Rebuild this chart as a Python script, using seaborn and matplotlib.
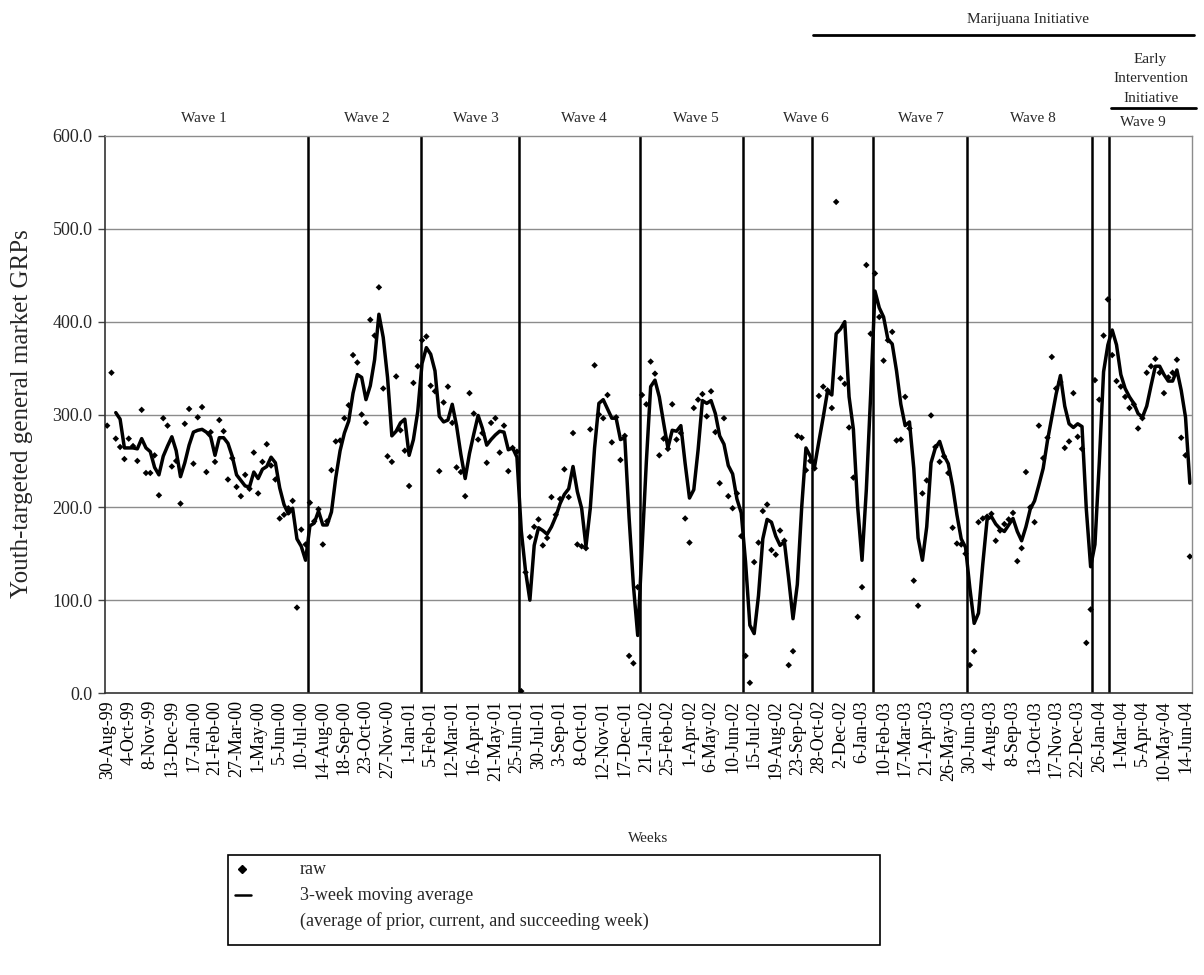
import numpy as np
import pandas as pd
import matplotlib
matplotlib.use("Agg")
import matplotlib.pyplot as plt
import seaborn as sns
from matplotlib.lines import Line2D
from matplotlib.patches import Rectangle
from matplotlib.ticker import FuncFormatter

# ---------------- data ----------------
tick_labels = ["30-Aug-99", "4-Oct-99", "8-Nov-99", "13-Dec-99", "17-Jan-00", "21-Feb-00",
               "27-Mar-00", "1-May-00", "5-Jun-00", "10-Jul-00", "14-Aug-00", "18-Sep-00",
               "23-Oct-00", "27-Nov-00", "1-Jan-01", "5-Feb-01", "12-Mar-01", "16-Apr-01",
               "21-May-01", "25-Jun-01", "30-Jul-01", "3-Sep-01", "8-Oct-01", "12-Nov-01",
               "17-Dec-01", "21-Jan-02", "25-Feb-02", "1-Apr-02", "6-May-02", "10-Jun-02",
               "15-Jul-02", "19-Aug-02", "23-Sep-02", "28-Oct-02", "2-Dec-02", "6-Jan-03",
               "10-Feb-03", "17-Mar-03", "21-Apr-03", "26-May-03", "30-Jun-03", "4-Aug-03",
               "8-Sep-03", "13-Oct-03", "17-Nov-03", "22-Dec-03", "26-Jan-04", "1-Mar-04",
               "5-Apr-04", "10-May-04", "14-Jun-04"]

# weekly youth-targeted GRPs (raw), one value per week starting 30-Aug-99
raw = [288, 345, 274, 265, 252, 274, 266, 250, 305, 237,
       237, 256, 213, 296, 288, 244, 250, 204, 290, 306,
       247, 297, 308, 238, 281, 249, 294, 282, 230, 253,
       222, 212, 235, 220, 259, 215, 249, 268, 245, 230,
       188, 192, 199, 207, 92, 176, 160, 205, 185, 198,
       160, 185, 240, 271, 272, 296, 310, 364, 356, 300,
       291, 402, 385, 437, 328, 255, 249, 341, 283, 261,
       223, 334, 352, 380, 384, 331, 325, 239, 313, 330,
       291, 243, 238, 212, 323, 301, 273, 280, 248, 291,
       296, 259, 288, 239, 264, 260, 2, 130, 168, 179,
       187, 159, 167, 211, 192, 209, 241, 211, 280, 160,
       158, 156, 284, 353, 300, 296, 321, 270, 297, 251,
       277, 40, 32, 114, 321, 311, 357, 344, 256, 274,
       263, 311, 273, 280, 188, 162, 307, 316, 322, 298,
       325, 281, 226, 296, 212, 199, 215, 169, 40, 11,
       141, 162, 196, 203, 154, 149, 175, 164, 30, 45,
       277, 275, 240, 250, 242, 320, 330, 326, 307, 529,
       339, 333, 286, 232, 82, 114, 461, 387, 452, 405,
       358, 380, 389, 272, 273, 319, 285, 121, 94, 215,
       229, 299, 265, 249, 255, 237, 178, 161, 160, 150,
       30, 45, 184, 188, 190, 193, 164, 175, 182, 187,
       194, 142, 156, 238, 200, 184, 288, 253, 275, 362,
       328, 335, 264, 271, 323, 276, 263, 54, 90, 337,
       316, 385, 424, 364, 336, 330, 319, 307, 311, 285,
       296, 345, 352, 360, 345, 323, 340, 345, 359, 275,
       256, 147]

# 3-week moving average as drawn (starts with the third week)
moving_avg = [np.nan, np.nan, 302, 295, 264, 264, 264, 263, 274, 264,
              260, 243, 235, 255, 266, 276, 261, 233, 248, 267,
              281, 283, 284, 281, 276, 256, 275, 275, 269, 255,
              235, 229, 223, 222, 238, 231, 241, 244, 254, 248,
              221, 203, 193, 199, 166, 158, 143, 180, 183, 196,
              181, 181, 195, 232, 261, 280, 293, 323, 343, 340,
              316, 331, 359, 408, 383, 340, 277, 282, 291, 295,
              256, 273, 303, 355, 372, 365, 347, 298, 292, 294,
              311, 288, 257, 231, 258, 279, 299, 285, 267, 273,
              278, 282, 281, 262, 264, 254, 175, 131, 100, 159,
              178, 175, 171, 179, 190, 204, 214, 220, 244, 217,
              199, 158, 199, 264, 312, 316, 306, 296, 296, 273,
              275, 189, 116, 62, 156, 249, 330, 337, 319, 291,
              264, 283, 282, 288, 247, 210, 219, 262, 315, 312,
              315, 301, 277, 268, 245, 236, 209, 194, 141, 73,
              64, 105, 166, 187, 184, 169, 159, 163, 123, 80,
              117, 199, 264, 255, 244, 271, 297, 325, 321, 387,
              392, 400, 319, 284, 200, 143, 219, 321, 433, 415,
              405, 381, 376, 347, 311, 288, 292, 242, 167, 143,
              179, 248, 264, 271, 256, 247, 223, 192, 166, 157,
              113, 75, 86, 139, 187, 190, 182, 177, 174, 181,
              188, 174, 164, 179, 198, 207, 224, 242, 272, 297,
              322, 342, 309, 290, 286, 290, 287, 198, 136, 160,
              248, 346, 375, 391, 375, 343, 328, 319, 312, 301,
              297, 309, 331, 352, 352, 343, 336, 336, 348, 326,
              297, 226]

wave_names = ["Wave 1", "Wave 2", "Wave 3", "Wave 4", "Wave 5",
              "Wave 6", "Wave 7", "Wave 8", "Wave 9"]
wave_label_weeks = [22.4, 60.2, 85.4, 110.5, 136.4, 161.9, 188.6, 214.6, 240.1]
wave_boundaries = [46.5, 72.8, 95.5, 123.5, 147.5, 163.5, 177.6, 199.3, 228.4, 232.3]

# ---------------- style ----------------
sns.set_theme(style="white")
plt.rcParams['font.family'] = ['Liberation Serif', 'DejaVu Serif']

W, H = 1204, 975
fig = plt.figure(figsize=(W / 100, H / 100), dpi=100)
ax_l, ax_r, ax_t, ax_b = 105, 1192, 136, 693
ax = fig.add_axes([ax_l / W, 1 - ax_b / H, (ax_r - ax_l) / W, (ax_b - ax_t) / H])

weeks = np.arange(len(raw))
df = pd.DataFrame({"week": weeks, "raw": raw, "ma": moving_avg})

# gridlines
for yv in range(100, 600, 100):
    ax.axhline(yv, color="#8c8c8c", lw=1.0, zorder=1)

# wave boundaries
for wb in wave_boundaries:
    ax.axvline(wb, color="black", lw=1.8, zorder=2)

sns.lineplot(data=df, x="week", y="ma", ax=ax, color="black", lw=2.5, zorder=3)
sns.scatterplot(data=df, x="week", y="raw", ax=ax, marker="D", s=11,
                color="black", edgecolor="none", linewidth=0, zorder=4)

ax.set_xlim(-0.5, len(raw) - 0.5)
ax.set_ylim(0, 600)

# x ticks
ax.set_xticks(np.arange(0, 5 * len(tick_labels), 5))
ax.set_xticklabels(tick_labels, rotation=90, fontsize=13)
ax.set_xticks(np.arange(-0.5, len(raw), 1), minor=True)
ax.tick_params(axis="x", which="major", length=0, pad=5, colors="black")
ax.tick_params(axis="x", which="minor", length=4, width=0.8, color="#444444", direction="out")

# y ticks
ax.set_yticks(np.arange(0, 601, 100))
ax.yaxis.set_major_formatter(FuncFormatter(lambda v, p: f"{v:.1f}"))
ax.tick_params(axis="y", which="major", length=5, width=1, color="#444444",
               direction="out", labelsize=13, pad=4, left=True)

ax.set_xlabel("")
ax.set_ylabel("")

for side in ["top", "right"]:
    ax.spines[side].set_color("#8c8c8c")
    ax.spines[side].set_linewidth(1.0)
for side in ["left", "bottom"]:
    ax.spines[side].set_color("#333333")
    ax.spines[side].set_linewidth(1.2)

# axis titles
fig.text(22 / W, 1 - 414 / H, "Youth-targeted general market GRPs", rotation=90,
         ha="center", va="center", fontsize=18)
fig.text(648 / W, 1 - 838 / H, "Weeks", ha="center", va="center", fontsize=11)

# header annotations
tr = ax.get_xaxis_transform()
plot_h = ax_b - ax_t


def yfrac(ypx):
    return (ax_b - ypx) / plot_h


for name, xw in zip(wave_names, wave_label_weeks):
    yy = 123 if name == "Wave 9" else 118
    ax.text(xw, yfrac(yy), name, transform=tr, ha="center", va="center",
            fontsize=11, clip_on=False)

ax.text(213.4, yfrac(20), "Marijuana Initiative", transform=tr, ha="center",
        va="center", fontsize=11, clip_on=False)
ax.plot([163.6, 251.9], [yfrac(35), yfrac(35)], transform=tr, color="black",
        lw=2.0, clip_on=False)
for txt, yy in zip(["Early", "Intervention", "Initiative"], [60, 79, 98]):
    ax.text(241.9, yfrac(yy), txt, transform=tr, ha="center", va="center",
            fontsize=11, clip_on=False)
ax.plot([232.7, 252.4], [yfrac(108), yfrac(108)], transform=tr, color="black",
        lw=2.0, clip_on=False)

# legend box
lx0, lx1, ly0, ly1 = 228, 880, 855, 945
fig.add_artist(Rectangle((lx0 / W, 1 - ly1 / H), (lx1 - lx0) / W, (ly1 - ly0) / H,
                         transform=fig.transFigure, fill=False, edgecolor="black", lw=1.2))
fig.add_artist(Line2D([242 / W], [1 - 869 / H], marker="D", markersize=4.0,
                      color="black", linestyle="none", transform=fig.transFigure))
fig.add_artist(Line2D([235 / W, 251 / W], [1 - 895 / H, 1 - 895 / H], color="black",
                      lw=1.8, transform=fig.transFigure))
fig.text(300 / W, 1 - 869 / H, "raw", ha="left", va="center", fontsize=13)
fig.text(300 / W, 1 - 895 / H, "3-week moving average", ha="left", va="center", fontsize=13)
fig.text(300 / W, 1 - 921 / H, "(average of prior, current, and succeeding week)",
         ha="left", va="center", fontsize=13)

fig.savefig("out.png", dpi=100)
